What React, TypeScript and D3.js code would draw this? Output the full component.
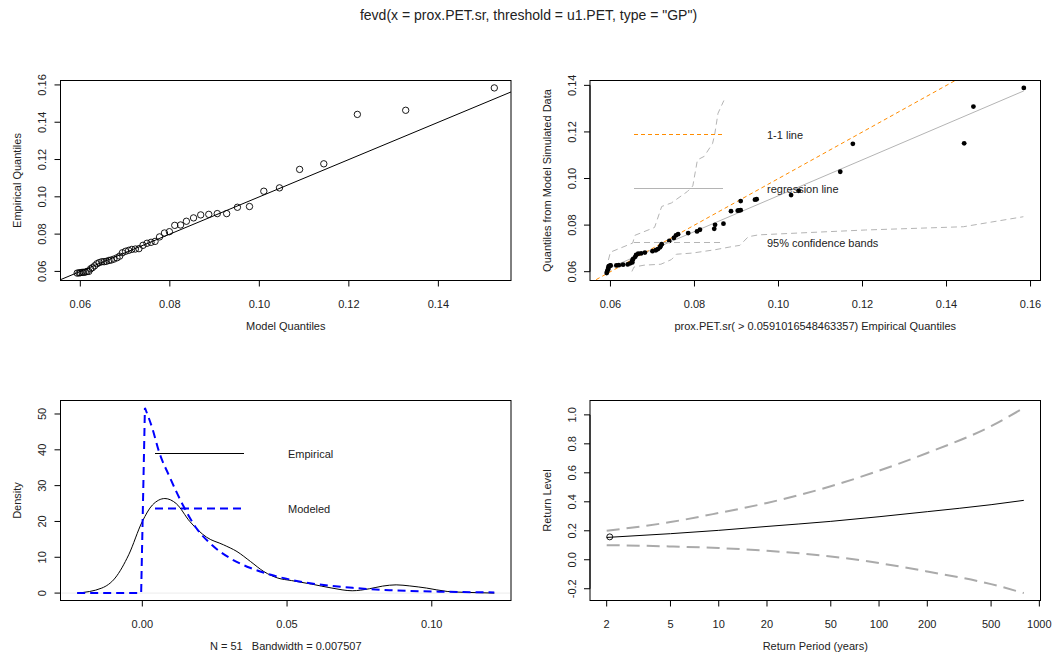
import React from "react";
import * as d3 from "d3";

// ---------- data ----------
const modelQ = [0.0593, 0.0597, 0.06, 0.0604, 0.0607, 0.0611, 0.0615, 0.0619, 0.0623, 0.0627,
  0.0632, 0.0637, 0.0642, 0.0648, 0.0653, 0.0658, 0.0664, 0.0669, 0.0675, 0.0682,
  0.0688, 0.0694, 0.0701, 0.0708, 0.0715, 0.0723, 0.0731, 0.074, 0.0749, 0.0758,
  0.0767, 0.0777, 0.0788, 0.0799, 0.0811, 0.0824, 0.0837, 0.0853, 0.0869, 0.0887,
  0.0906, 0.0927, 0.0951, 0.0978, 0.101, 0.1045, 0.109, 0.1144, 0.1219, 0.1327, 0.1525];
const empQ = [0.0591, 0.0592, 0.0593, 0.0595, 0.0595, 0.0596, 0.06, 0.06, 0.0614, 0.062,
  0.063, 0.0641, 0.0647, 0.0652, 0.0652, 0.0654, 0.0659, 0.0661, 0.0666, 0.0673,
  0.0682, 0.07, 0.0708, 0.0713, 0.0718, 0.072, 0.0722, 0.074, 0.0751, 0.0756,
  0.0761, 0.0785, 0.0806, 0.0813, 0.0847, 0.0849, 0.0869, 0.0887, 0.0903, 0.0906,
  0.091, 0.091, 0.0944, 0.0948, 0.103, 0.1048, 0.1147, 0.1177, 0.1442, 0.1464, 0.1584];
const simQ = [0.0594, 0.06, 0.0606, 0.0612, 0.0618, 0.0624, 0.0626, 0.0627, 0.0627, 0.0628,
  0.063, 0.0631, 0.0636, 0.064, 0.0648, 0.0655, 0.0664, 0.0672, 0.0677, 0.0679,
  0.0682, 0.0688, 0.0692, 0.0697, 0.0705, 0.0712, 0.0718, 0.0732, 0.0745, 0.0756,
  0.0761, 0.0766, 0.0773, 0.078, 0.0784, 0.0801, 0.0806, 0.086, 0.0862, 0.0863,
  0.0864, 0.0903, 0.0909, 0.0911, 0.0929, 0.0947, 0.1029, 0.1149, 0.1151, 0.1309, 0.1389];
const bandUpperX = [0.0595, 0.06, 0.0653, 0.0658, 0.0705, 0.0722, 0.0745, 0.0783, 0.0796, 0.0807, 0.0823, 0.0843, 0.0848, 0.0856, 0.087];
const bandUpperY = [0.065, 0.0684, 0.0723, 0.0756, 0.079, 0.088, 0.0895, 0.0944, 0.0968, 0.108, 0.1095, 0.115, 0.1188, 0.128, 0.1335];
const bandLowerX = [0.0651, 0.0656, 0.068, 0.072, 0.0745, 0.0757, 0.0795, 0.0848, 0.089, 0.0908, 0.0928, 0.0952, 0.1047, 0.1207, 0.144, 0.1583];
const bandLowerY = [0.0601, 0.062, 0.0628, 0.0632, 0.0652, 0.0675, 0.068, 0.0694, 0.0708, 0.0713, 0.075, 0.0758, 0.0766, 0.0779, 0.0793, 0.0836];

const densEmpX = [-0.0225, -0.014, -0.0094, -0.0047, 0, 0.0035, 0.0078, 0.0117, 0.0164, 0.0222, 0.028, 0.0327, 0.0374, 0.042, 0.0468, 0.0515, 0.0585, 0.0655, 0.0725, 0.0784, 0.083, 0.0877, 0.0924, 0.0982, 0.1053, 0.112, 0.1216];
const densEmpY = [0, 1.4, 4.2, 10.7, 20, 24.6, 26.4, 25.0, 20, 15.6, 13.5, 11.6, 8.8, 6.0, 4.2, 3.5, 2.5, 1.4, 0.65, 1.2, 1.95, 2.3, 2.0, 1.4, 0.46, 0.2, 0];
const densModX = [-0.0225, -0.0004, 0.0009, 0.0035, 0.0058, 0.0094, 0.014, 0.0187, 0.0234, 0.0304, 0.0374, 0.0444, 0.0515, 0.062, 0.0737, 0.0854, 0.103, 0.1216];
const densModY = [0, 0, 51.7, 45.9, 39.4, 32.5, 24.6, 18.1, 13.9, 9.7, 7.0, 5.1, 3.7, 2.3, 1.4, 0.8, 0.4, 0.2];

const periods = [2, 5, 10, 20, 50, 100, 200, 500, 800];
const rlEst = [0.154, 0.18, 0.203, 0.23, 0.265, 0.297, 0.332, 0.38, 0.41];
const rlUpper = [0.2, 0.26, 0.323, 0.392, 0.507, 0.615, 0.737, 0.922, 1.048];
const rlLower = [0.101, 0.092, 0.081, 0.062, 0.023, -0.023, -0.081, -0.168, -0.23];
const obsPeriod = [2.09];
const obsLevel = [0.158];

const p1XTicks = [0.06, 0.08, 0.1, 0.12, 0.14];
const p1YTicks = [0.06, 0.08, 0.1, 0.12, 0.14, 0.16];
const p2XTicks = [0.06, 0.08, 0.1, 0.12, 0.14, 0.16];
const p2YTicks = [0.06, 0.08, 0.1, 0.12, 0.14];
const p3XTicks = [0, 0.05, 0.1];
const p3YTicks = [0, 10, 20, 30, 40, 50];
const p4XTicks = [2, 5, 10, 20, 50, 100, 200, 500, 1000];
const p4YTicks = [-0.2, 0, 0.2, 0.4, 0.6, 0.8, 1.0];

const title = 'fevd(x = prox.PET.sr, threshold = u1.PET, type = "GP")';

// ---------- layout ----------
const W = 1057, H = 653;
const cols = [{ l: 60.5, r: 511 }, { l: 590, r: 1040.5 }];
const rows = [{ t: 80.5, b: 280.5 }, { t: 400.5, b: 600.5 }];
const FONT = "'Liberation Sans', Arial, Helvetica, sans-serif";
const FS = 11;

const pad = (ext: number[]) => {
  const d = ext[1] - ext[0];
  return [ext[0] - 0.04 * d, ext[1] + 0.04 * d];
};
const ext = (a: number[]) => d3.extent(a) as number[];

function BottomAxis({ scale, ticks, y, fmt }: any) {
  const xs = ticks.map((t: number) => scale(t));
  return (
    <g>
      <line x1={xs[0]} x2={xs[xs.length - 1]} y1={y} y2={y} stroke="#000" />
      {ticks.map((t: number, i: number) => (
        <g key={i}>
          <line x1={xs[i]} x2={xs[i]} y1={y} y2={y + 6} stroke="#000" />
          <text x={xs[i]} y={y + 27.5} textAnchor="middle" fontSize={FS} fill="#222">{fmt(t)}</text>
        </g>
      ))}
    </g>
  );
}
function LeftAxis({ scale, ticks, x, fmt }: any) {
  const ys = ticks.map((t: number) => scale(t));
  return (
    <g>
      <line x1={x} x2={x} y1={ys[0]} y2={ys[ys.length - 1]} stroke="#000" />
      {ticks.map((t: number, i: number) => (
        <g key={i}>
          <line x1={x} x2={x - 6} y1={ys[i]} y2={ys[i]} stroke="#000" />
          <text transform={`translate(${x - 14.5},${ys[i]}) rotate(-90)`} textAnchor="middle" fontSize={FS} fill="#222">{fmt(t)}</text>
        </g>
      ))}
    </g>
  );
}
function Frame({ c, r, xlab, ylab }: any) {
  return (
    <g>
      <rect x={c.l} y={r.t} width={c.r - c.l} height={r.b - r.t} fill="none" stroke="#000" />
      <text x={(c.l + c.r) / 2} y={r.b + 49.5} textAnchor="middle" fontSize={FS} fill="#222" style={{ whiteSpace: "pre" }}>{xlab}</text>
      <text transform={`translate(${c.l - 39.5},${(r.t + r.b) / 2}) rotate(-90)`} textAnchor="middle" fontSize={FS} fill="#222">{ylab}</text>
    </g>
  );
}

export default function App() {
  const f2 = (v: number) => v.toFixed(2);
  // Panel 1
  const c1 = cols[0], r1 = rows[0];
  const x1 = d3.scaleLinear().domain(pad(ext(modelQ))).range([c1.l, c1.r]);
  const y1 = d3.scaleLinear().domain(pad(ext(empQ))).range([r1.b, r1.t]);
  const d1 = x1.domain();
  // Panel 2
  const c2 = cols[1], r2 = rows[0];
  const x2 = d3.scaleLinear().domain(pad(ext(empQ))).range([c2.l, c2.r]);
  const y2 = d3.scaleLinear().domain(pad(ext(simQ))).range([r2.b, r2.t]);
  const d2 = x2.domain();
  const mx = d3.mean(empQ)!, my = d3.mean(simQ)!;
  let sxy = 0, sxx = 0;
  empQ.forEach((v, i) => { sxy += (v - mx) * (simQ[i] - my); sxx += (v - mx) * (v - mx); });
  const b = sxy / sxx, a = my - b * mx;
  const [ex0, ex1] = ext(empQ);
  const ln2 = d3.line<[number, number]>().x(d => x2(d[0])).y(d => y2(d[1]));
  const upper = bandUpperX.map((v, i) => [v, bandUpperY[i]] as [number, number]);
  const lower = bandLowerX.map((v, i) => [v, bandLowerY[i]] as [number, number]);
  // Panel 3
  const c3 = cols[0], r3 = rows[1];
  const x3 = d3.scaleLinear().domain(pad(ext(densEmpX.concat(densModX)))).range([c3.l, c3.r]);
  const y3 = d3.scaleLinear().domain(pad(ext(densEmpY.concat(densModY)))).range([r3.b, r3.t]);
  const ln3 = d3.line<[number, number]>().x(d => x3(d[0])).y(d => y3(d[1])).curve(d3.curveMonotoneX);
  const lin3 = d3.line<[number, number]>().x(d => x3(d[0])).y(d => y3(d[1]));
  const emp = densEmpX.map((v, i) => [v, densEmpY[i]] as [number, number]);
  const mod = densModX.map((v, i) => [v, densModY[i]] as [number, number]);
  const peak = densModY.indexOf(d3.max(densModY)!);
  const modPath = lin3(mod.slice(0, peak + 1))! + ln3(mod.slice(peak))!.replace(/^M/, "L");
  // Panel 4
  const c4 = cols[1], r4 = rows[1];
  const lp = pad(ext(periods).map(Math.log10));
  const x4 = d3.scaleLog().domain([Math.pow(10, lp[0]), Math.pow(10, lp[1])]).range([c4.l, c4.r]);
  const y4 = d3.scaleLinear().domain(pad(ext(rlUpper.concat(rlLower, rlEst)))).range([r4.b, r4.t]);
  const ln4 = d3.line<[number, number]>().x(d => x4(d[0])).y(d => y4(d[1])).curve(d3.curveMonotoneX);
  const est = periods.map((p, i) => [p, rlEst[i]] as [number, number]);
  const up4 = periods.map((p, i) => [p, rlUpper[i]] as [number, number]);
  const lo4 = periods.map((p, i) => [p, rlLower[i]] as [number, number]);

  return (
    <svg width={W} height={H} style={{ position: "absolute", left: 0, top: 0, background: "#fff" }} fontFamily={FONT}>
      <defs>
        <clipPath id="cp1"><rect x={c1.l} y={r1.t} width={c1.r - c1.l} height={r1.b - r1.t} /></clipPath>
        <clipPath id="cp2"><rect x={c2.l} y={r2.t} width={c2.r - c2.l} height={r2.b - r2.t} /></clipPath>
      </defs>
      <rect x={0} y={0} width={W} height={H} fill="#fff" />
      <text x={W / 2} y={20} textAnchor="middle" fontSize={14} fill="#222">{title}</text>

      {/* Panel 1 */}
      <g clipPath="url(#cp1)">
        <line x1={x1(d1[0])} y1={y1(d1[0])} x2={x1(d1[1])} y2={y1(d1[1])} stroke="#000" />
      </g>
      {modelQ.map((v, i) => (
        <circle key={i} cx={x1(v)} cy={y1(empQ[i])} r={3.2} fill="none" stroke="#000" strokeWidth={0.9} />
      ))}
      <Frame c={c1} r={r1} xlab="Model Quantiles" ylab="Empirical Quantiles" />
      <BottomAxis scale={x1} ticks={p1XTicks} y={r1.b} fmt={f2} />
      <LeftAxis scale={y1} ticks={p1YTicks} x={c1.l} fmt={f2} />

      {/* Panel 2 */}
      <g clipPath="url(#cp2)">
        <path d={ln2(upper)!} fill="none" stroke="#b4b4b4" strokeDasharray="6,4" />
        <path d={ln2(lower)!} fill="none" stroke="#b4b4b4" strokeDasharray="6,4" />
        <line x1={x2(ex0)} y1={y2(a + b * ex0)} x2={x2(ex1)} y2={y2(a + b * ex1)} stroke="#b4b4b4" />
        <line x1={x2(d2[0])} y1={y2(d2[0])} x2={x2(d2[1])} y2={y2(d2[1])} stroke="#FF8C00" strokeDasharray="4,3" />
      </g>
      {empQ.map((v, i) => (
        <circle key={i} cx={x2(v)} cy={y2(simQ[i])} r={2.4} fill="#000" />
      ))}
      <line x1={634} x2={723} y1={134.5} y2={134.5} stroke="#FF8C00" strokeDasharray="4,3" />
      <line x1={634} x2={723} y1={188.5} y2={188.5} stroke="#b4b4b4" />
      <line x1={634} x2={723} y1={242.5} y2={242.5} stroke="#b4b4b4" strokeDasharray="6,4" />
      <text x={767} y={138.5} fontSize={FS} fill="#222">1-1 line</text>
      <text x={767} y={192.5} fontSize={FS} fill="#222">regression line</text>
      <text x={767} y={246.5} fontSize={FS} fill="#222">95% confidence bands</text>
      <Frame c={c2} r={r2} xlab="prox.PET.sr( > 0.0591016548463357) Empirical Quantiles" ylab="Quantiles from Model Simulated Data" />
      <BottomAxis scale={x2} ticks={p2XTicks} y={r2.b} fmt={f2} />
      <LeftAxis scale={y2} ticks={p2YTicks} x={c2.l} fmt={f2} />

      {/* Panel 3 */}
      <line x1={c3.l + 1} x2={c3.r - 1} y1={y3(0)} y2={y3(0)} stroke="#ececec" />
      <path d={ln3(emp)!} fill="none" stroke="#000" />
      <path d={modPath} fill="none" stroke="#0000FF" strokeWidth={2} strokeDasharray="8,5" />
      <line x1={155} x2={244} y1={453.5} y2={453.5} stroke="#000" />
      <line x1={155} x2={244} y1={508.5} y2={508.5} stroke="#0000FF" strokeWidth={2} strokeDasharray="8,5" />
      <text x={288} y={457.5} fontSize={FS} fill="#222">Empirical</text>
      <text x={288} y={512.5} fontSize={FS} fill="#222">Modeled</text>
      <Frame c={c3} r={r3} xlab={"N = 51   Bandwidth = 0.007507"} ylab="Density" />
      <BottomAxis scale={x3} ticks={p3XTicks} y={r3.b} fmt={f2} />
      <LeftAxis scale={y3} ticks={p3YTicks} x={c3.l} fmt={(v: number) => String(v)} />

      {/* Panel 4 */}
      <path d={ln4(up4)!} fill="none" stroke="#aaaaaa" strokeWidth={2} strokeDasharray="13,7" />
      <path d={ln4(lo4)!} fill="none" stroke="#aaaaaa" strokeWidth={2} strokeDasharray="13,7" />
      <path d={ln4(est)!} fill="none" stroke="#000" />
      {obsPeriod.map((p, i) => (
        <circle key={i} cx={x4(p)} cy={y4(obsLevel[i])} r={3} fill="none" stroke="#000" strokeWidth={0.9} />
      ))}
      <Frame c={c4} r={r4} xlab="Return Period (years)" ylab="Return Level" />
      <BottomAxis scale={x4} ticks={p4XTicks} y={r4.b} fmt={(v: number) => String(v)} />
      <LeftAxis scale={y4} ticks={p4YTicks} x={c4.l} fmt={(v: number) => v.toFixed(1)} />
    </svg>
  );
}
